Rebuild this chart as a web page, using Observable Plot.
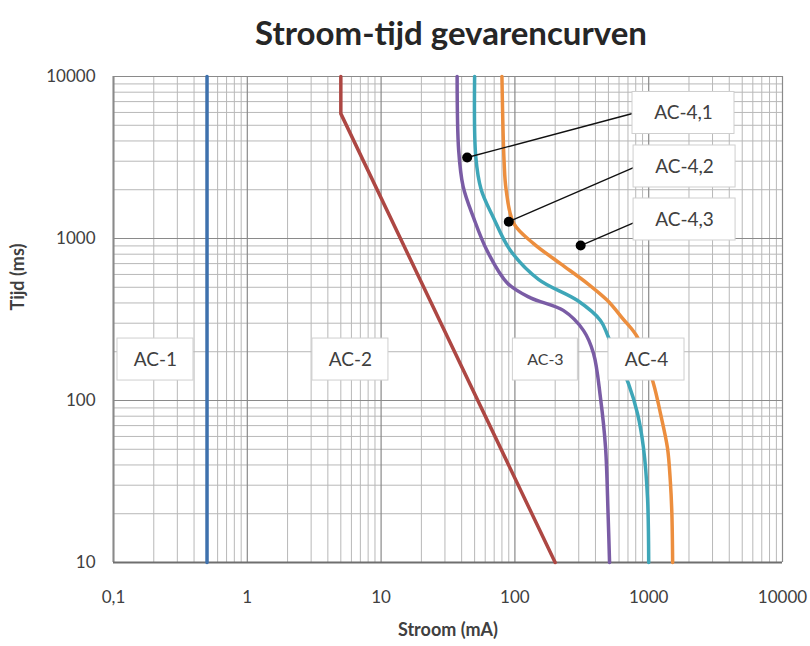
<!DOCTYPE html>
<html>
<head>
<meta charset="utf-8">
<script src="https://cdn.jsdelivr.net/npm/d3@7"></script>
<script src="https://cdn.jsdelivr.net/npm/@observablehq/plot@0.6"></script>
<style>
  body { margin: 0; background: #fff; }
  #wrap { width: 810px; height: 646px; position: relative; overflow: hidden; background: #fff; }
  #title { height: 60px; box-sizing: border-box; padding-left: 92px; text-align: center;
           font: bold 33px Lato, sans-serif; color: #262626; line-height: 64px; }
</style>
</head>
<body>
<div id="wrap">
  <div id="title">Stroom-tijd gevarencurven</div>
  <div id="chart"></div>
</div>
<script>
// ---- axis ticks ----
const xTickValues = [0.1, 1, 10, 100, 1000, 10000];
const xTickLabels = ["0,1", "1", "10", "100", "1000", "10000"];
const yTickValues = [10, 100, 1000, 10000];
const yTickLabels = ["10", "100", "1000", "10000"];

// ---- curves: [stroom mA, tijd ms] ----
const curveAC1 = [[0.5, 10000], [0.5, 10]];
const curveAC2 = [[5, 10000], [5, 5900], [200, 10]];
const curveC1 = [[37, 10000], [38, 3500], [41, 2100], [49, 1350], [62, 840], [88, 530], [131, 430],
                 [230, 360], [326, 270], [387, 195], [436, 104], [476, 51], [497, 20], [510, 10]];
const curveC2 = [[50, 10000], [51, 3200], [56, 2000], [69, 1350], [92, 850], [150, 560], [294, 414],
                 [436, 312], [501, 245], [706, 127], [825, 83], [914, 51], [980, 25], [1000, 10]];
const curveC3 = [[80, 10000], [83, 3000], [86, 2000], [98, 1240], [138, 930], [219, 700], [349, 527],
                 [492, 414], [640, 320], [825, 245], [1086, 127], [1225, 83], [1381, 51], [1450, 32],
                 [1490, 20], [1510, 10]];

// ---- zone labels ----
const zoneNames = ["AC-1", "AC-2", "AC-4"];
const zoneX = [0.206, 5.9, 963];
const zoneY = [179, 179, 179];
const zone3Name = ["AC-3"];
const zone3X = [169];
const zone3Y = [179];

// ---- curve labels with leaders ----
const curveNames = ["AC-4,1", "AC-4,2", "AC-4,3"];
const curveLabelX = [1820, 1854, 1854];
const curveLabelY = [5954, 2783, 1310];
const leaderStartX = [44, 90, 310];
const leaderStartY = [3160, 1270, 905];
const leaderEndX = [757, 770, 770];
const leaderEndY = [5910, 2740, 1250];

// ---- grid values ----
const decadesX = [0.1, 1, 10, 100, 1000];
const decadesY = [10, 100, 1000];
const minorSteps = [2, 3, 4, 5, 6, 7, 8, 9];
const xMinor = decadesX.flatMap(d => minorSteps.map(m => d * m));
const yMinor = decadesY.flatMap(d => minorSteps.map(m => d * m));

const idx = a => a.map((_, i) => i);
const P = d => d[0], T = d => d[1];

const plot = Plot.plot({
  width: 810,
  height: 586,
  marginTop: 16,
  marginBottom: 84,
  marginLeft: 113,
  marginRight: 28,
  style: { fontFamily: "Lato, sans-serif", fontSize: "17px", color: "#404040", background: "white" },
  x: {
    type: "log", domain: [0.1, 10000], ticks: xTickValues,
    tickFormat: d => xTickLabels[xTickValues.indexOf(d)],
    tickSize: 0, tickPadding: 28, label: null
  },
  y: {
    type: "log", domain: [10, 10000], ticks: yTickValues,
    tickFormat: d => yTickLabels[yTickValues.indexOf(d)],
    tickSize: 0, tickPadding: 18, label: null
  },
  marks: [
    Plot.ruleX(xMinor, { stroke: "#b8b8b8", strokeWidth: 1 }),
    Plot.ruleY(yMinor, { stroke: "#b8b8b8", strokeWidth: 1 }),
    Plot.ruleX(xTickValues, { stroke: "#8a8a8a", strokeWidth: 1.2 }),
    Plot.ruleY(yTickValues, { stroke: "#8a8a8a", strokeWidth: 1.2 }),
    Plot.ruleX([0.1], { stroke: "#8a8a8a", strokeWidth: 2 }),
    Plot.ruleY([10], { stroke: "#6f6f6f", strokeWidth: 2 }),
    Plot.line(curveAC1, { x: P, y: T, stroke: "#3e71ad", strokeWidth: 3.5 }),
    Plot.line(curveAC2, { x: P, y: T, stroke: "#ad4743", strokeWidth: 3.5 }),
    Plot.line(curveC1, { x: P, y: T, stroke: "#7a5ca5", strokeWidth: 3.5, curve: "catmull-rom" }),
    Plot.line(curveC2, { x: P, y: T, stroke: "#3ea6b8", strokeWidth: 3.5, curve: "catmull-rom" }),
    Plot.line(curveC3, { x: P, y: T, stroke: "#ec8e3e", strokeWidth: 3.5, curve: "catmull-rom" }),
    Plot.link(idx(curveNames), {
      x1: i => leaderStartX[i], y1: i => leaderStartY[i],
      x2: i => leaderEndX[i], y2: i => leaderEndY[i],
      stroke: "#111", strokeWidth: 1.4
    }),
    Plot.dot(idx(curveNames), { x: i => leaderStartX[i], y: i => leaderStartY[i], r: 5, fill: "#000" }),
    // boxes
    Plot.rect(idx(zoneNames), {
      x1: i => zoneX[i], x2: i => zoneX[i], y1: i => zoneY[i], y2: i => zoneY[i],
      insetLeft: -38, insetRight: -38, insetTop: -21, insetBottom: -21,
      fill: "white", stroke: "#cfcfcf", strokeWidth: 1
    }),
    Plot.rect(idx(zone3Name), {
      x1: i => zone3X[i], x2: i => zone3X[i], y1: i => zone3Y[i], y2: i => zone3Y[i],
      insetLeft: -32.5, insetRight: -32.5, insetTop: -21, insetBottom: -21,
      fill: "white", stroke: "#cfcfcf", strokeWidth: 1
    }),
    Plot.rect(idx(curveNames), {
      x1: i => curveLabelX[i], x2: i => curveLabelX[i], y1: i => curveLabelY[i], y2: i => curveLabelY[i],
      insetLeft: -51, insetRight: -51, insetTop: -21, insetBottom: -21,
      fill: "white", stroke: "#cfcfcf", strokeWidth: 1
    }),
    Plot.text(idx(zoneNames), { x: i => zoneX[i], y: i => zoneY[i], text: i => zoneNames[i], fontSize: 19, fill: "#404040" }),
    Plot.text(idx(zone3Name), { x: i => zone3X[i], y: i => zone3Y[i], text: i => zone3Name[i], fontSize: 16, fill: "#404040" }),
    Plot.text(idx(curveNames), { x: i => curveLabelX[i], y: i => curveLabelY[i], text: i => curveNames[i], fontSize: 19, fill: "#404040" }),
    // axis titles
    Plot.text(["Stroom (mA)"], { frameAnchor: "bottom", dy: 73, text: d => d, fontWeight: "bold", fontSize: 18, fill: "#404040" }),
    Plot.text(["Tijd (ms)"], { frameAnchor: "left", dx: -95, dy: -9, rotate: -90, text: d => d, fontWeight: "bold", fontSize: 18, fill: "#404040" })
  ]
});
document.getElementById("chart").appendChild(plot);
</script>
</body>
</html>
